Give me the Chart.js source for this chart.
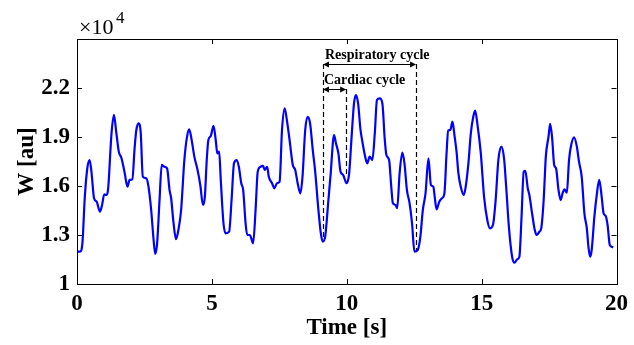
<!DOCTYPE html>
<html><head><meta charset="utf-8">
<script src="https://cdn.jsdelivr.net/npm/chart.js@4.4.0/dist/chart.umd.min.js"></script>
<style>html,body{margin:0;padding:0;background:#fff;}#wrap{width:634px;height:345px;}</style>
</head><body><div id="wrap"><canvas id="c" width="634" height="345"></canvas></div>
<script>
// Time axis (s)
const timeSec = [0.00,0.11,0.20,0.29,0.39,0.47,0.54,0.63,0.73,0.85,0.93,1.01,1.09,1.15,1.28,1.37,1.46,1.55,1.65,1.77,1.87,1.95,2.05,2.14,2.20,2.28,2.36,2.44,2.57,2.65,2.75,2.84,2.90,2.97,3.06,3.14,3.24,
3.34,3.43,3.49,3.58,3.67,3.76,3.86,3.98,4.08,4.16,4.25,4.35,4.47,4.57,4.67,4.74,4.81,4.87,4.96,5.06,5.15,5.20,5.27,5.33,5.43,5.51,5.64,5.73,5.82,5.92,6.00,6.09,6.16,6.25,6.31,6.41,6.46,6.53,
6.62,6.70,6.80,6.90,6.96,7.05,7.11,7.23,7.32,7.41,7.51,7.60,7.70,7.78,7.88,8.00,8.09,8.18,8.28,8.36,8.46,8.55,8.64,8.74,8.83,8.95,9.04,9.11,9.20,9.32,9.40,9.53,9.60,9.69,9.77,9.87,
9.99,10.09,10.18,10.27,10.34,10.42,10.51,10.58,10.67,10.76,10.85,10.95,11.04,11.12,11.22,11.32,11.41,11.47,11.57,11.65,11.71,11.81,11.87,11.96,12.06,12.14,12.23,12.33,12.42,12.51,12.63,12.73,12.82,12.92,13.03,13.12,13.21,
13.26,13.33,13.43,13.53,13.62,13.70,13.76,13.84,13.92,14.00,14.07,14.14,14.23,14.34,14.41,14.51,14.60,14.69,14.76,14.84,14.97,15.09,15.21,15.31,15.42,15.52,15.62,15.73,15.83,15.91,16.01,16.13,16.22,16.32,16.40,16.48,16.56,
16.62,16.71,16.77,16.87,16.97,17.04,17.14,17.21,17.30,17.38,17.48,17.54,17.61,17.69,17.76,17.85,17.93,18.00,18.07,18.16,18.24,18.32,18.43,18.53,18.61,18.71,18.81,18.90,18.96,19.02,19.08,19.18,19.26,19.36,19.45,19.52,19.60,19.67,19.75,19.82,19.88];
// W signal (x 10^4 au)
const wValues = [1.198,1.198,1.249,1.535,1.718,1.759,1.680,1.527,1.504,1.443,1.484,1.549,1.545,1.576,1.923,2.035,1.923,1.810,1.770,1.678,1.596,1.637,1.641,1.841,1.943,1.984,1.933,1.657,1.647,1.596,1.453,1.269,1.184,1.249,1.514,1.729,1.718,
1.708,1.576,1.525,1.372,1.274,1.331,1.453,1.759,1.902,1.947,1.882,1.780,1.698,1.606,1.484,1.535,1.759,1.882,1.906,1.968,1.871,1.800,1.810,1.637,1.372,1.310,1.320,1.514,1.739,1.759,1.718,1.617,1.576,1.372,1.300,1.300,1.280,1.249,
1.453,1.688,1.718,1.723,1.698,1.718,1.657,1.617,1.586,1.617,1.626,1.943,2.076,2.004,1.882,1.729,1.698,1.617,1.555,1.657,1.943,2.024,1.984,1.821,1.688,1.453,1.310,1.259,1.290,1.514,1.667,1.912,1.862,1.800,1.688,1.667,
1.617,1.678,1.902,2.107,2.157,2.107,1.943,1.871,1.790,1.739,1.780,1.759,1.923,2.127,2.137,2.107,1.882,1.790,1.759,1.596,1.494,1.484,1.464,1.678,1.804,1.739,1.576,1.494,1.372,1.198,1.208,1.290,1.453,1.555,1.770,1.606,1.596,
1.535,1.457,1.504,1.525,1.555,1.800,1.939,1.943,1.994,1.902,1.810,1.678,1.592,1.545,1.596,1.739,1.923,2.024,2.061,1.984,1.800,1.535,1.392,1.341,1.361,1.514,1.759,1.841,1.770,1.596,1.351,1.167,1.130,1.151,1.167,1.412,1.688,
1.692,1.586,1.545,1.433,1.331,1.300,1.320,1.341,1.514,1.780,1.902,1.980,1.902,1.729,1.708,1.576,1.514,1.555,1.580,1.559,1.759,1.851,1.898,1.841,1.749,1.657,1.433,1.341,1.228,1.167,1.208,1.412,1.535,1.637,1.535,1.433,1.416,1.361,1.239,1.228,1.225];

const xTicks = [0, 5, 10, 15, 20];
const yTicks = [1, 1.3, 1.6, 1.9, 2.2];
const xRange = [0, 20];
const yRange = [1, 2.5];

// Annotation (data coordinates)
const markerTimes  = [9.12, 9.98, 12.57];
const markerTopW   = [2.347, 2.194, 2.347];
const markerBottomW= [1.275, 1.662, 1.205];
const respArrow = [9.12, 12.57, 2.347];   // from t, to t, at W
const cardArrow = [9.12, 9.98, 2.194];
const respLabel = 'Respiratory cycle';
const cardLabel = 'Cardiac cycle';
const xTitle = 'Time [s]';
const yTitle = 'W [au]';

const SERIF = '"Liberation Serif","Times New Roman",serif';

function arrowHead(ctx, x, y, dir) {
  ctx.beginPath();
  ctx.moveTo(x, y);
  ctx.lineTo(x - dir * 6, y - 3);
  ctx.lineTo(x - dir * 6, y + 3);
  ctx.closePath();
  ctx.fill();
}

const framePlugin = {
  id: 'frame',
  afterDatasetsDraw(chart) {
    const {ctx, chartArea: {left, right, top, bottom}, scales: {x, y}} = chart;
    ctx.save();
    ctx.strokeStyle = '#000';
    ctx.lineWidth = 1;
    ctx.strokeRect(Math.round(left) + 0.5, Math.round(top) + 0.5, Math.round(right - left), Math.round(bottom - top));
    ctx.beginPath();
    xTicks.forEach(v => {
      const px = Math.round(x.getPixelForValue(v)) + 0.5;
      ctx.moveTo(px, bottom); ctx.lineTo(px, bottom - 5);
      ctx.moveTo(px, top); ctx.lineTo(px, top + 5);
    });
    yTicks.forEach(v => {
      const py = Math.round(y.getPixelForValue(v)) + 0.5;
      ctx.moveTo(left, py); ctx.lineTo(left + 5, py);
      ctx.moveTo(right, py); ctx.lineTo(right - 5, py);
    });
    ctx.stroke();

    // dashed cycle markers
    ctx.setLineDash([5, 3]);
    ctx.lineWidth = 1.2;
    ctx.beginPath();
    markerTimes.forEach((t, i) => {
      const px = Math.round(x.getPixelForValue(t)) + 0.5;
      ctx.moveTo(px, y.getPixelForValue(markerTopW[i]));
      ctx.lineTo(px, y.getPixelForValue(markerBottomW[i]));
    });
    ctx.stroke();
    ctx.setLineDash([]);

    // arrows
    ctx.fillStyle = '#000';
    ctx.lineWidth = 1;
    [respArrow, cardArrow].forEach(a => {
      const x1 = x.getPixelForValue(a[0]), x2 = x.getPixelForValue(a[1]);
      const py = Math.round(y.getPixelForValue(a[2])) + 0.5;
      ctx.beginPath(); ctx.moveTo(x1 + 2, py); ctx.lineTo(x2 - 2, py); ctx.stroke();
      arrowHead(ctx, x1, py, -1);
      arrowHead(ctx, x2, py, 1);
    });

    // labels
    ctx.font = 'bold 14px ' + SERIF;
    ctx.textAlign = 'left';
    ctx.textBaseline = 'alphabetic';
    ctx.fillText(respLabel, x.getPixelForValue(respArrow[0]) + 2, y.getPixelForValue(respArrow[2]) - 5);
    ctx.fillText(cardLabel, x.getPixelForValue(cardArrow[0]) + 1, y.getPixelForValue(cardArrow[2]) - 5);

    // exponent
    ctx.font = '22px ' + SERIF;
    ctx.fillText('\u00d710', left + 2, 34);
    ctx.font = '17px ' + SERIF;
    ctx.fillText('4', left + 39, 23);
    ctx.restore();
  }
};

const tickFont = {family: SERIF, size: 23, weight: 'bold'};
const titleFont = {family: SERIF, size: 23, weight: 'bold'};

new Chart(document.getElementById('c'), {
  type: 'line',
  data: {
    datasets: [{
      data: timeSec.map((t, i) => ({x: t, y: wValues[i]})),
      borderColor: '#0000ff',
      borderWidth: 2.2,
      pointRadius: 0,
      fill: false,
      cubicInterpolationMode: 'monotone'
    }]
  },
  options: {
    responsive: false,
    animation: false,
    devicePixelRatio: 1,
    layout: {padding: {left: 0, right: 14, top: 39, bottom: 0}},
    plugins: {legend: {display: false}, tooltip: {enabled: false}},
    scales: {
      x: {
        type: 'linear', min: xRange[0], max: xRange[1],
        afterBuildTicks: s => { s.ticks = xTicks.map(v => ({value: v})); },
        afterFit: s => { s.height = 61; },
        grid: {display: false, drawTicks: false},
        border: {display: false},
        ticks: {font: tickFont, color: '#000', padding: 6, maxRotation: 0, autoSkip: false,
                callback: v => String(v)},
        title: {display: true, text: xTitle, color: '#000', font: titleFont, padding: {top: 0, bottom: 3}}
      },
      y: {
        type: 'linear', min: yRange[0], max: yRange[1],
        afterBuildTicks: s => { s.ticks = yTicks.map(v => ({value: v})); },
        afterFit: s => { s.width = 77; },
        grid: {display: false, drawTicks: false},
        border: {display: false},
        ticks: {font: tickFont, color: '#000', padding: 7, autoSkip: false,
                callback: v => String(Math.round(v * 10) / 10)},
        title: {display: true, text: yTitle, color: '#000', font: titleFont, padding: {top: 13, bottom: 0}}
      }
    }
  },
  plugins: [framePlugin]
});
</script>
</body></html>
